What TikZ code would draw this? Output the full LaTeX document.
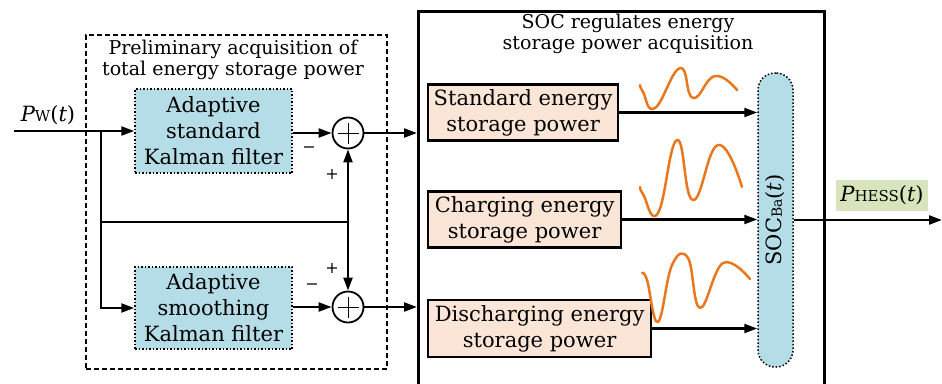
\documentclass[tikz,border=0pt]{standalone}
\usepackage{fontspec}
\setmainfont{DejaVu Serif}
\usetikzlibrary{arrows.meta,calc}
\definecolor{fblue}{HTML}{B4DDE8}
\definecolor{peach}{HTML}{FBE5D6}
\definecolor{lgreen}{HTML}{D8E4BC}
\definecolor{worange}{HTML}{E8771E}
\begin{document}
\begin{tikzpicture}[x=1pt,y=-1pt,
  >={Triangle[length=13pt,width=9pt]},
  conn/.style={->,line width=2.2pt},
  plain/.style={line width=2.2pt},
  bigfont/.style={font=\fontsize{21}{26}\selectfont},
  titlefont/.style={font=\fontsize{19}{21.5}\selectfont},
  filt/.style={draw,dotted,line width=1.5pt,fill=fblue,minimum width=157pt,minimum height=84pt,align=center,inner sep=0pt,bigfont},
  pbox/.style={draw,line width=2.2pt,fill=peach,minimum height=56pt,align=center,inner sep=0pt,anchor=west,bigfont},
  sumc/.style={circle,draw,line width=1.8pt,minimum size=31pt,inner sep=0pt,
    path picture={\draw[line width=0.8pt] ([xshift=5pt]path picture bounding box.west) -- ([xshift=-5pt]path picture bounding box.east)
      ([yshift=-5pt]path picture bounding box.north) -- ([yshift=5pt]path picture bounding box.south);}},
  sig/.style={font=\fontsize{16}{16}\selectfont},
  wave/.style={worange,line width=2.5pt,line cap=round,line join=round}]
\clip (0,0) rectangle (942,383);
\useasboundingbox (0,0) rectangle (942,383);
% left dashed block
\node[draw,line width=2.4pt,dash pattern=on 5pt off 3pt,minimum width=301pt,minimum height=334pt,anchor=north west,inner sep=0pt] (pre) at (85,34) {};
\node[titlefont,align=center] (pretitle) at (233,60) {Preliminary acquisition of\\total energy storage power};
\node[filt] (f1) at (213.5,131) {Adaptive\\standard\\Kalman filter};
\node[filt,minimum height=82pt] (f2) at (213.5,308) {Adaptive\\smoothing\\Kalman filter};
\node[sumc] (s1) at (348,133) {};
\node[sumc] (s2) at (348,307) {};
\coordinate (in) at (14,131);
\coordinate (br) at (101,131);
\coordinate (j) at (348,222);
\node[bigfont] (pw) at (48,115) {\itshape P\upshape{\fontsize{15}{15}\selectfont W}(\itshape t\upshape)};
\draw[conn] (in) -- (f1.west);
\draw[conn] (br) |- (f2.west);
\draw[plain] (br |- j) -- (j);
\draw[conn] (j) -- (s1.south);
\draw[conn] (j) -- (s2.north);
\draw[conn] (f1.east |- s1) -- (s1.west);
\draw[conn] (f2.east |- s2) -- (s2.west);
\node[sig] (m1) at (309,150) {−};
\node[sig] (p1) at (332,174) {+};
\node[sig] (m2) at (312,287) {−};
\node[sig] (p2) at (332,268) {+};
% right block
\node[draw,line width=2.6pt,minimum width=406pt,minimum height=385pt,anchor=north west,inner sep=0pt] (big) at (417,10) {};
\node[titlefont,align=center] (bigtitle) at (628,34) {SOC regulates energy\\storage power acquisition};
\draw[conn] (s1.east) -- (big.west |- s1);
\draw[conn] (s2.east) -- (big.west |- s2);
\node[pbox,minimum width=190pt] (std) at (427,112.5) {Standard energy\\storage power};
\node[pbox,minimum width=193pt] (chg) at (427,219.5) {Charging energy\\storage power};
\node[pbox,minimum width=223pt,minimum height=57pt] (dis) at (427,328.5) {Discharging energy\\storage power};
\node[draw,dotted,line width=1.5pt,fill=fblue,rounded corners=17pt,minimum width=35pt,minimum height=294pt,inner sep=0pt] (soc) at (775.5,220) {};
\node[bigfont,rotate=90] (soclbl) at (soc.center) {SOC{\fontsize{14}{14}\selectfont Ba}(\itshape t\upshape)};
\draw[conn] (std.east) -- (soc.west |- std);
\draw[conn] (chg.east) -- (soc.west |- chg);
\draw[conn] (dis.east) -- (soc.west |- dis);
\coordinate (out) at (942,220);
\draw[conn] (soc.east) -- (out);
\node[fill=lgreen,minimum width=92pt,minimum height=31pt,inner sep=0pt,bigfont] (ph) at (882,195) {\itshape P\upshape{\fontsize{15}{15}\selectfont HESS}(\itshape t\upshape)};
% waves
\draw[wave] plot[smooth,tension=0.8] coordinates {(640,85) (643,92) (655,108) (680,68) (693,98) (715,76) (737,90)};
\draw[wave] plot[smooth,tension=0.8] coordinates {(640,187) (643,194) (658,213) (677,140) (693,200) (718,145) (742,187)};
\draw[wave] plot[smooth,tension=0.7] coordinates {(642,273) (647,280) (658,322) (672,265) (688,258) (700,308) (723,263) (750,279)};
\end{tikzpicture}
\end{document}
